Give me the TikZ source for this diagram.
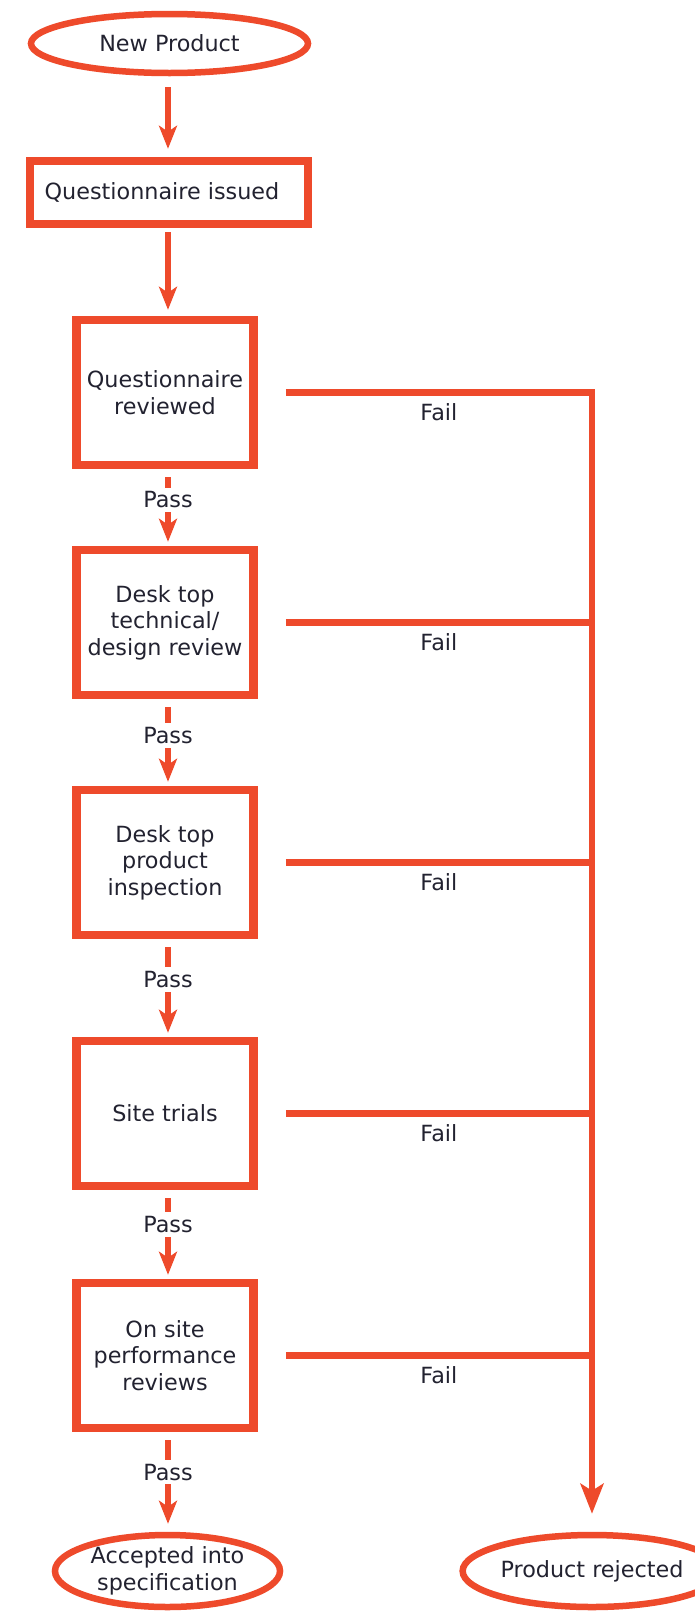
\documentclass[tikz,border=0pt]{standalone}
\usepackage{fontspec}
\setmainfont{DejaVu Sans}
\usetikzlibrary{arrows.meta,shapes.geometric,calc}
\definecolor{flow}{RGB}{238,74,43}
\definecolor{txt}{RGB}{34,34,48}
\begin{document}
\begin{tikzpicture}[x=1pt,y=-1pt,
  every node/.style={font=\fontsize{22.3}{26.5}\selectfont, text=txt},
  term/.style={ellipse, draw=flow, line width=6.5pt, inner sep=0pt, align=center},
  stage/.style={rectangle, draw=flow, line width=8.5pt, minimum width=177pt, minimum height=145pt, inner sep=0pt, align=center},
  widebox/.style={rectangle, draw=flow, line width=8.5pt, minimum width=278pt, minimum height=63pt, inner sep=0pt},
  conn/.style={draw=flow, line width=5.5pt, -{Stealth[length=23pt,width=18pt,inset=6pt]}},
  failline/.style={draw=flow, line width=6.5pt, line join=miter},
  bus/.style={draw=flow, line width=6.5pt, line join=miter, -{Stealth[length=30pt,width=23pt,inset=7pt]}},
  lbl/.style={fill=white, inner sep=4pt},
]
\useasboundingbox (0,0) rectangle (694,1612);

\node[term, minimum width=277pt, minimum height=59pt] (np) at (169.5,43.5) {New Product};
\node[widebox] (qi) at (169,192.5) {Questionnaire issued\hspace*{14pt}};
\node[stage] (qr) at (165,392.5) {Questionnaire\\reviewed};
\node[stage] (dt) at (165,622.5) {Desk top\\technical/\\design review};
\node[stage] (dp) at (165,862.5) {Desk top\\product\\inspection};
\node[stage] (st) at (165,1113.5) {Site trials};
\node[stage] (os) at (165,1355.5) {On site\\performance\\reviews};
\node[term, minimum width=225pt, minimum height=72pt] (acc) at (167.5,1571) {Accepted into\\specification};
\node[term, minimum width=225pt, minimum height=72pt] (rej) at (592,1571) {Product rejected};

\coordinate (ax) at (168,0);

\draw[conn, shorten <=11pt, shorten >=8pt] (np.south -| ax) -- (qi.north -| ax);
\draw[conn, shorten <=4pt, shorten >=6pt] (qi.south -| ax) -- (qr.north -| ax);

\draw[conn, shorten <=8pt, shorten >=4pt] (qr.south -| ax) -- node[lbl, pos=0.4] {Pass} (dt.north -| ax);
\draw[conn, shorten <=8pt, shorten >=4pt] (dt.south -| ax) -- node[lbl, pos=0.42] {Pass} (dp.north -| ax);
\draw[conn, shorten <=8pt, shorten >=4pt] (dp.south -| ax) -- node[lbl, pos=0.41] {Pass} (st.north -| ax);
\draw[conn, shorten <=8pt, shorten >=4pt] (st.south -| ax) -- node[lbl, pos=0.39] {Pass} (os.north -| ax);
\draw[conn, shorten <=8pt, shorten >=8pt] (os.south -| ax) -- node[lbl, pos=0.4] {Pass} (acc.north -| ax);

\draw[bus, shorten >=18pt] ([xshift=28pt]qr.east) -- node[midway, yshift=-20pt] {Fail} (qr.east -| rej.north) -- (rej.north);
\draw[failline] ([xshift=28pt]dt.east) -- node[midway, yshift=-20pt] {Fail} (dt.east -| rej.north);
\draw[failline] ([xshift=28pt]dp.east) -- node[midway, yshift=-20pt] {Fail} (dp.east -| rej.north);
\draw[failline] ([xshift=28pt]st.east) -- node[midway, yshift=-20pt] {Fail} (st.east -| rej.north);
\draw[failline] ([xshift=28pt]os.east) -- node[midway, yshift=-20pt] {Fail} (os.east -| rej.north);
\end{tikzpicture}
\end{document}
